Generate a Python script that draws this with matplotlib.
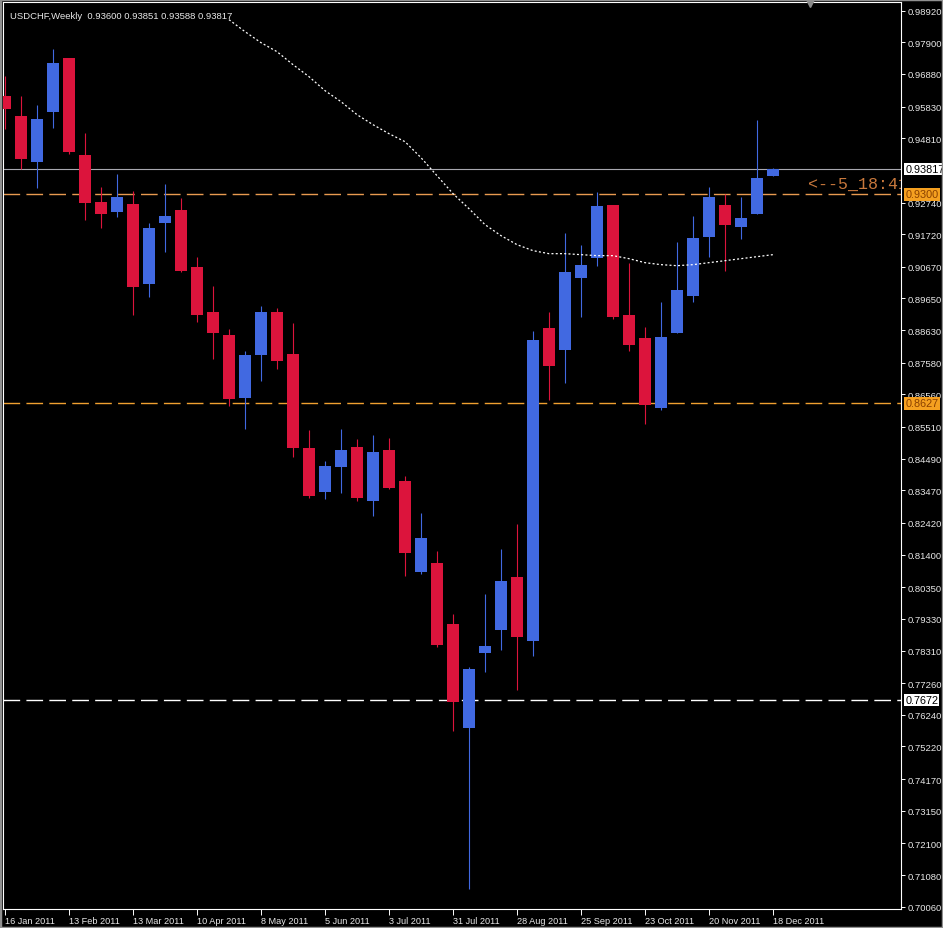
import matplotlib
matplotlib.use('Agg')
import matplotlib.pyplot as plt
from matplotlib.patches import Rectangle

plt.rcParams['font.family'] = ['Liberation Sans', 'DejaVu Sans']

# weekly USDCHF bars, 16 Jan 2011 .. 18 Dec 2011
opens = [0.96182, 0.95538, 0.94056, 0.95667, 0.97406, 0.94282, 0.92768, 0.92446, 0.92704, 0.90127,
         0.92091, 0.92510, 0.90674, 0.89225, 0.88484, 0.86455, 0.87840, 0.89225, 0.87872, 0.84844,
         0.83427, 0.84232, 0.84876, 0.83137, 0.84780, 0.83781, 0.80850, 0.81140, 0.79175, 0.75825,
         0.78241, 0.78982, 0.80689, 0.78628, 0.88709, 0.88001, 0.90320, 0.90964, 0.92671, 0.89128,
         0.88387, 0.86133, 0.88548, 0.89740, 0.91641, 0.92671, 0.91963, 0.92381, 0.93600]
highs = [0.96826, 0.96182, 0.95892, 0.97696, 0.97406, 0.94990, 0.93251, 0.93670, 0.93122, 0.92091,
         0.93348, 0.92897, 0.90996, 0.90062, 0.88677, 0.87969, 0.89418, 0.89354, 0.88871, 0.85424,
         0.84426, 0.85456, 0.85134, 0.85263, 0.85166, 0.83942, 0.82751, 0.81527, 0.79497, 0.77790,
         0.80142, 0.81591, 0.82396, 0.88613, 0.89225, 0.91769, 0.91383, 0.93090, 0.92671, 0.90803,
         0.88742, 0.89547, 0.91479, 0.92317, 0.93251, 0.93026, 0.92929, 0.95409, 0.93851]
lows = [0.95119, 0.93831, 0.93219, 0.95151, 0.94314, 0.92188, 0.91930, 0.92285, 0.89128, 0.89708,
        0.91157, 0.90513, 0.88903, 0.87711, 0.86197, 0.85456, 0.87002, 0.87389, 0.84554, 0.83234,
        0.83201, 0.83395, 0.83137, 0.82654, 0.83524, 0.80721, 0.80786, 0.78434, 0.75729, 0.70640,
        0.77629, 0.78338, 0.77049, 0.78145, 0.86390, 0.86938, 0.89064, 0.90706, 0.88999, 0.87969,
        0.85617, 0.86068, 0.88530, 0.89547, 0.90996, 0.90545, 0.91576, 0.92381, 0.93588]
closes = [0.95763, 0.94153, 0.95441, 0.97245, 0.94378, 0.92736, 0.92381, 0.92929, 0.90030, 0.91930,
          0.92317, 0.90545, 0.89128, 0.88548, 0.86423, 0.87840, 0.89225, 0.87647, 0.84844, 0.83298,
          0.84264, 0.84780, 0.83234, 0.84715, 0.83556, 0.81462, 0.81945, 0.78499, 0.76663, 0.77726,
          0.78467, 0.80560, 0.78757, 0.88323, 0.87485, 0.90513, 0.90739, 0.92639, 0.89064, 0.88162,
          0.86229, 0.88420, 0.89933, 0.91608, 0.92929, 0.92027, 0.92253, 0.93541, 0.93817]

# moving average, starts at bar 14
ma_start = 14
ma = [0.98630, 0.98244, 0.97889, 0.97599, 0.97181, 0.96794, 0.96343, 0.95989, 0.95570, 0.95248,
      0.94958, 0.94700, 0.94185, 0.93605, 0.93026, 0.92542, 0.92027, 0.91673, 0.91383, 0.91190,
      0.91093, 0.91093, 0.91061, 0.91029, 0.91029, 0.90932, 0.90803, 0.90739, 0.90706, 0.90739,
      0.90803, 0.90867, 0.90932, 0.90996, 0.91061]

date_labels = ['16 Jan 2011', '13 Feb 2011', '13 Mar 2011', '10 Apr 2011', '8 May 2011', '5 Jun 2011',
               '3 Jul 2011', '31 Jul 2011', '28 Aug 2011', '25 Sep 2011', '23 Oct 2011', '20 Nov 2011',
               '18 Dec 2011']
price_ticks = [0.98920, 0.97900, 0.96880, 0.95830, 0.94810, 0.92740, 0.91720, 0.90670, 0.89650,
               0.88630, 0.87580, 0.86560, 0.85510, 0.84490, 0.83470, 0.82420, 0.81400, 0.80350,
               0.79330, 0.78310, 0.77260, 0.76240, 0.75220, 0.74170, 0.73150, 0.72100, 0.71080,
               0.70060]

last_price = 0.93817
level_top = 0.9300
level_mid = 0.8627
level_low = 0.7672

bull = '#4169E1'
bear = '#DC143C'

fig = plt.figure(figsize=(9.43, 9.29), dpi=100, facecolor='black')
ax = fig.add_axes([3 / 943, 1 - 910 / 929, 898 / 943, 907 / 929])
ax.set_facecolor('black')

x = list(range(len(opens)))
cols = [bull if c >= o else bear for o, c in zip(opens, closes)]
ax.vlines(x, lows, highs, colors=cols, lw=0.8, zorder=2)
ax.bar(x, [c - o for o, c in zip(opens, closes)], bottom=opens, width=0.69,
       color=cols, linewidth=0, zorder=3)

ax.plot(range(ma_start, ma_start + len(ma)), ma, color='white', lw=0.9,
        ls=(0, (1.6, 1.8)), zorder=4)

# horizontal lines
ax.axhline(last_price, color='#A8A8B0', lw=0.8, zorder=1)
ax.axhline(level_top, color='#E89A50', lw=1.0, dashes=(12, 4.5), zorder=1)
ax.axhline(level_mid, color='#F0A030', lw=1.0, dashes=(12, 4.5), zorder=1)
ax.axhline(level_low, color='white', lw=1.0, dashes=(12, 4.5), zorder=1)

ax.set_xlim(-0.125, 56.0)
ax.set_ylim(0.69985, 0.99199)

for s in ax.spines.values():
    s.set_color('white')
    s.set_linewidth(0.8)

ax.yaxis.tick_right()
ax.set_yticks(price_ticks)
ax.set_yticklabels(['%.5f' % p for p in price_ticks])
ax.tick_params(axis='y', direction='out', length=3, width=0.7, color='white',
               labelcolor='#E8E8E8', labelsize=6.8, pad=2)

ax.set_xticks(range(0, 4 * len(date_labels), 4))
ax.set_xticklabels(date_labels)
for lbl in ax.get_xticklabels():
    lbl.set_horizontalalignment('left')
ax.tick_params(axis='x', direction='out', length=4, width=0.7, color='white',
               labelcolor='#E8E8E8', labelsize=6.6, pad=1)

# price labels on the right scale
def price_box(y, txt, fc, tc):
    ax.annotate(txt, xy=(1.0, y), xycoords=('axes fraction', 'data'),
                xytext=(3, 0), textcoords='offset points', ha='left', va='center',
                fontsize=7.8, color=tc, annotation_clip=False, zorder=10,
                bbox=dict(boxstyle='square,pad=0.12', fc=fc, ec='none'))

price_box(last_price, '0.93817', 'white', 'black')
price_box(level_top, '0.9300', '#F5A020', '#8A4000')
price_box(level_mid, '0.8627', '#F5A020', '#8A4000')
price_box(level_low, '0.7672', 'white', 'black')

ax.text(50.2, 0.9337, '<--5_18:41', color='#C8783C', fontsize=12,
        family=['Liberation Mono', 'DejaVu Sans Mono'], va='center', ha='left',
        clip_on=True, zorder=6)

ax.text(0.008, 0.985, 'USDCHF,Weekly  0.93600 0.93851 0.93588 0.93817', transform=ax.transAxes,
        color='#E8E8E8', fontsize=6.8, va='center', ha='left')

ax.plot([50.3], [0.9985], marker='v', color='#8A8A8A', ms=6, transform=ax.get_xaxis_transform(),
        clip_on=False, zorder=8)

fig.patches.append(Rectangle((0, 0), 1, 1, transform=fig.transFigure, fill=False,
                             ec='#909090', lw=2.5))

fig.savefig('out.png', dpi=100, facecolor='black')
